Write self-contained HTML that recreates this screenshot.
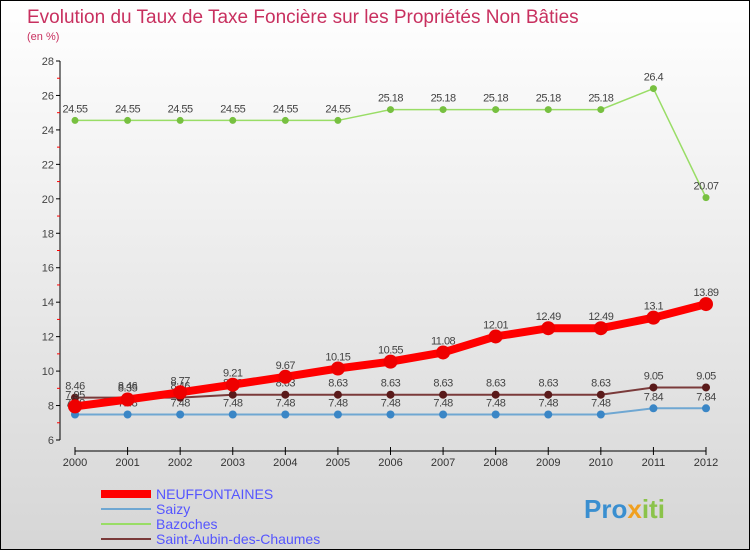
<!DOCTYPE html>
<html><head><meta charset="utf-8"><style>
body{margin:0}
#c{width:748px;height:548px;border:1px solid #000;background:linear-gradient(#fff,#d6d6d6);position:relative;font-family:"Liberation Sans",sans-serif;overflow:hidden}
</style></head><body>
<div id="c">
<svg id="s" width="748" height="548">
<text x="26" y="22" font-size="19" fill="#c8305f">Evolution du Taux de Taxe Foncière sur les Propriétés Non Bâties</text>
<text x="26" y="39" font-size="11" fill="#c8305f">(en %)</text>
<g id="axes"></g><g id="series"></g><g id="legend"></g>
<text x="583" y="517" font-size="26" font-weight="bold" fill="#3a8fd0">Pro<tspan fill="#f0a020">x</tspan><tspan fill="#8bc34a">iti</tspan></text>
</svg></div>
<script>
const years=[2000,2001,2002,2003,2004,2005,2006,2007,2008,2009,2010,2011,2012];
const yTicks=[6,8,10,12,14,16,18,20,22,24,26,28];
const neuf=[7.95,8.35,8.77,9.21,9.67,10.15,10.55,11.08,12.01,12.49,12.49,13.1,13.89];
const saizy=[7.48,7.48,7.48,7.48,7.48,7.48,7.48,7.48,7.48,7.48,7.48,7.84,7.84];
const bazoches=[24.55,24.55,24.55,24.55,24.55,24.55,25.18,25.18,25.18,25.18,25.18,26.4,20.07];
const stAubin=[8.46,8.46,8.46,8.63,8.63,8.63,8.63,8.63,8.63,8.63,8.63,9.05,9.05];
const names=["NEUFFONTAINES","Saizy","Bazoches","Saint-Aubin-des-Chaumes"];
const NS="http://www.w3.org/2000/svg";
const X=i=>74+i*(631/12);
const Y=v=>439-(v-6)*(379/22);
function mk(t,a,p){const e=document.createElementNS(NS,t);for(const k in a)e.setAttribute(k,a[k]);p.appendChild(e);return e;}
const ax=document.getElementById('axes');
let e=mk('line',{x1:59,y1:Y(28),x2:59,y2:Y(6),stroke:'#000'},ax);


e=mk('line',{x1:X(0),y1:450,x2:X(12),y2:450,stroke:'#000'},ax);


yTicks.forEach(v=>{mk('line',{x1:55,y1:Y(v),x2:59,y2:Y(v),stroke:'#000'},ax);
 if(v<28)mk('line',{x1:56,y1:Y(v+1),x2:59,y2:Y(v+1),stroke:'#f00'},ax);
 const t=mk('text',{x:53,y:Y(v)+4,'font-size':11,'text-anchor':'end',fill:'#444'},ax);t.textContent=v;
 
 });
years.forEach((y,i)=>{mk('line',{x1:X(i),y1:446,x2:X(i),y2:454,stroke:'#000'},ax);
 const t=mk('text',{x:X(i),y:465,'font-size':11,'text-anchor':'middle',fill:'#333'},ax);t.textContent=y;
 
 });
const sg=document.getElementById('series');
const defs=[[saizy,'#6fa7d2',2,'#3a86c6',4,'saizy'],[bazoches,'#99dd66',1.5,'#77c040',3.5,'bazoches'],[stAubin,'#7a3a3a',2,'#5a1a1a',4,'saint-aubin'],[neuf,'#f00',8,'#e00',7,'neuffontaines']];
defs.forEach(([d,c,w,mc,r,n])=>{
 const p=mk('polyline',{points:d.map((v,i)=>X(i)+','+Y(v)).join(' '),fill:'none',stroke:c,'stroke-width':w},sg);
 
 
 d.forEach((v,i)=>{const m=mk('circle',{cx:X(i),cy:Y(v),r:r,fill:mc},sg);
  
  
  const t=mk('text',{x:X(i),y:Y(v)-8,'font-size':11,'text-anchor':'middle',fill:'#444','letter-spacing':'-0.5'},sg);t.textContent=v;
  
  });
});
const lg=document.getElementById('legend');
const lc=['#f00','#6fa7d2','#99dd66','#7a3a3a'],lw=[8,2,2,2];
names.forEach((n,i)=>{const y=493+i*15;
 const l=mk('line',{x1:100,y1:y,x2:150,y2:y,stroke:lc[i],'stroke-width':lw[i]},lg);
 
 
 const t=mk('text',{x:155,y:y+5,'font-size':14,fill:'#5555ff'},lg);t.textContent=n;
 
 });
</script>
</body></html>
